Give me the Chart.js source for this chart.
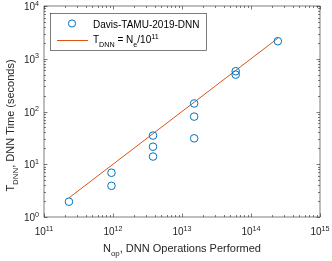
<!DOCTYPE html>
<html>
<head>
<meta charset="utf-8">
<script src="https://cdn.jsdelivr.net/npm/chart.js@4/dist/chart.umd.min.js"></script>
<style>
html,body{margin:0;padding:0;background:#fff;}
#wrap{width:332px;height:261px;position:relative;}
</style>
</head>
<body>
<div id="wrap"><canvas id="c"></canvas></div>
<script>
// measured points (ops performed, seconds)
const opsX=[2.3e11,9.5e11,9.5e11,3.8e12,3.8e12,3.8e12,1.5e13,1.5e13,1.5e13,6.0e13,6.0e13,2.45e14];
const timeY=[1.95,6.9,3.9,35,21.5,14,142,80,31,580,500,2150];
const fitX=[2.3e11,2.45e14];
const fitY=fitX.map(v=>v/1e11);
const xDecades=[11,12,13,14,15];
const yDecades=[0,1,2,3,4];
const seriesName='Davis-TAMU-2019-DNN';

const FONT='"Liberation Sans", Arial, sans-serif';
const INK='#262626';

// write text with sub/superscripts: parts = [[text,'n'|'sub'|'sup'],...]
function richWidth(ctx,parts,size){
    let w=0;
    parts.forEach(p=>{ctx.font=(p[1]=='n'?size:size*0.72)+'px '+FONT;w+=ctx.measureText(p[0]).width;});
    return w;
}
function richText(ctx,parts,x,y,size){
    parts.forEach(p=>{
        const s=p[1]=='n'?size:size*0.72;
        ctx.font=s+'px '+FONT;
        const dy=p[1]=='sub'?size*0.35:p[1]=='sup'?-size*0.45:0;
        ctx.fillText(p[0],x,y+dy);
        x+=ctx.measureText(p[0]).width;
    });
}

const axesPlugin={
    id:'matlabAxes',
    afterDraw(chart){
        const ctx=chart.ctx,a=chart.chartArea,xs=chart.scales.x,ys=chart.scales.y;
        ctx.save();
        ctx.strokeStyle=INK;ctx.lineWidth=0.6;
        ctx.strokeRect(a.left,a.top,a.right-a.left,a.bottom-a.top);
        ctx.beginPath();
        const tick=(px,len,isX)=>{
            if(isX){ctx.moveTo(px,a.bottom);ctx.lineTo(px,a.bottom-len);ctx.moveTo(px,a.top);ctx.lineTo(px,a.top+len);}
            else{ctx.moveTo(a.left,px);ctx.lineTo(a.left+len,px);ctx.moveTo(a.right,px);ctx.lineTo(a.right-len,px);}
        };
        xDecades.forEach((d,i)=>{
            tick(Math.round(xs.getPixelForValue(Math.pow(10,d)))+0.5,3.5,true);
            if(i<xDecades.length-1)for(let m=2;m<10;m++)tick(Math.round(xs.getPixelForValue(m*Math.pow(10,d)))+0.5,2,true);
        });
        yDecades.forEach((d,i)=>{
            tick(Math.round(ys.getPixelForValue(Math.pow(10,d)))+0.5,3.5,false);
            if(i<yDecades.length-1)for(let m=2;m<10;m++)tick(Math.round(ys.getPixelForValue(m*Math.pow(10,d)))+0.5,2,false);
        });
        ctx.stroke();

        ctx.fillStyle=INK;ctx.textBaseline='alphabetic';ctx.textAlign='left';
        const fs=10;
        xDecades.forEach(d=>{
            const parts=[['10','n'],[String(d),'sup']];
            const w=richWidth(ctx,parts,fs);
            richText(ctx,parts,xs.getPixelForValue(Math.pow(10,d))-w/2,a.bottom+18,fs);
        });
        yDecades.forEach(d=>{
            const parts=[['10','n'],[String(d),'sup']];
            const w=richWidth(ctx,parts,fs);
            richText(ctx,parts,a.left-5-w,ys.getPixelForValue(Math.pow(10,d))+4,fs);
        });

        // axis titles
        const ts=11;
        const xt=[['N','n'],['op','sub'],[', DNN Operations Performed','n']];
        const xw=richWidth(ctx,xt,ts);
        richText(ctx,xt,(a.left+a.right)/2-xw/2,a.bottom+35,ts);
        const yt=[['T','n'],['DNN','sub'],[', DNN Time (seconds)','n']];
        const yw=richWidth(ctx,yt,ts);
        ctx.save();
        ctx.translate(14,(a.top+a.bottom)/2+14);
        ctx.rotate(-Math.PI/2);
        richText(ctx,yt,-yw/2,0,ts);
        ctx.restore();

        // legend
        const lx=50.5,ly=13.5,lw=156,lh=37;
        ctx.fillStyle='#fff';ctx.fillRect(lx,ly,lw,lh);
        ctx.strokeStyle=INK;ctx.lineWidth=0.6;ctx.strokeRect(lx,ly,lw,lh);
        ctx.strokeStyle=chart.data.datasets[0].borderColor;ctx.lineWidth=1;
        ctx.beginPath();ctx.arc(72,23.5,3.6,0,Math.PI*2);ctx.stroke();
        ctx.strokeStyle=chart.data.datasets[1].borderColor;
        ctx.beginPath();ctx.moveTo(57,40.5);ctx.lineTo(88,40.5);ctx.stroke();
        ctx.fillStyle='#000';
        richText(ctx,[[seriesName,'n']],93,27.5,fs);
        richText(ctx,[['T','n'],['DNN','sub'],[' = N','n'],['e','sub'],['/10','n'],['11','sup']],93,43,fs);
        ctx.restore();
    }
};

new Chart(document.getElementById('c'),{
    type:'scatter',
    data:{datasets:[
        {label:seriesName,data:opsX.map((x,i)=>({x:x,y:timeY[i]})),borderColor:'#0072BD',backgroundColor:'rgba(0,0,0,0)',pointRadius:3.8,pointBorderWidth:1,showLine:false},
        {label:'fit',data:fitX.map((x,i)=>({x:x,y:fitY[i]})),borderColor:'#D95319',borderWidth:1,pointRadius:0,showLine:true}
    ]},
    options:{
        responsive:true,maintainAspectRatio:false,animation:false,
        layout:{padding:{left:44,top:6,right:12,bottom:44}},
        plugins:{legend:{display:false},tooltip:{enabled:false}},
        scales:{
            x:{type:'logarithmic',display:false,min:1e11,max:1e15},
            y:{type:'logarithmic',display:false,min:1,max:1e4}
        }
    },
    plugins:[axesPlugin]
});
</script>
</body>
</html>
